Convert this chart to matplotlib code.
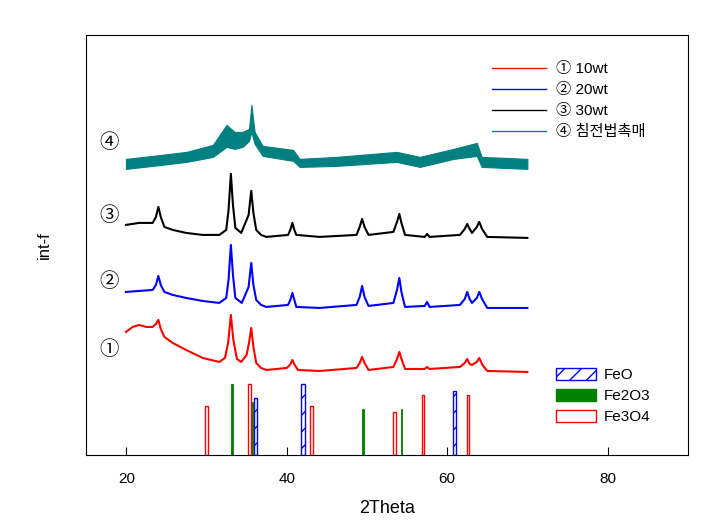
import matplotlib.pyplot as plt
from matplotlib.patches import Patch
from matplotlib.lines import Line2D

plt.rcParams['font.family'] = ['Liberation Sans', 'Noto Sans CJK KR', 'DejaVu Sans']

# XRD patterns (2theta, intensity in arbitrary offset units)
red_x = [19.96, 20.8, 21.6, 22.5, 23.29, 23.7, 24.0, 24.3, 24.75, 25.79, 27.46, 29.54, 31.6,
         32.3, 32.7, 33.04, 33.35, 33.8, 34.33, 35.0, 35.3, 35.58, 35.85, 36.2, 36.8, 37.46,
         40.0, 40.4, 40.71, 41.0, 41.4, 44.1, 48.7, 49.1, 49.4, 49.7, 50.2, 53.3, 53.75, 54.04,
         54.35, 54.75, 57.2, 57.5, 57.8, 61.6, 62.2, 62.5, 62.8, 63.1, 63.7, 64.0, 64.4, 65.0,
         70.0]
red_y = [123, 128, 130, 128, 128, 131, 135, 126, 118, 112, 105, 97, 93,
         97, 112, 140, 115, 96, 93, 100, 112, 127, 108, 92, 87, 85,
         87, 90, 95, 90, 85, 84, 87, 92, 98, 92, 85, 88, 96, 103,
         95, 86, 86, 88, 86, 88, 92, 96, 91, 90, 93, 97, 90, 84,
         83]

blue_x = [19.96, 21.6, 23.29, 23.7, 24.0, 24.3, 24.75, 25.8, 27.46, 29.5, 31.6, 32.46, 32.75,
          33.04, 33.3, 33.6, 34.4, 35.25, 35.58, 35.85, 36.2, 36.8, 37.46, 40.17, 40.45, 40.71,
          40.95, 41.2, 44.1, 48.7, 49.1, 49.4, 49.7, 50.2, 53.3, 53.75, 54.04, 54.3, 54.75,
          57.2, 57.5, 57.8, 61.6, 62.2, 62.5, 62.8, 63.1, 63.7, 64.0, 64.35, 65.0, 70.0]
blue_y = [163, 164, 165, 170, 179, 170, 163, 160, 157, 154, 152, 157, 175,
          210, 180, 157, 152, 168, 192, 170, 155, 150, 148, 150, 155, 162,
          155, 148, 147, 150, 158, 169, 158, 149, 152, 165, 177, 163, 148,
          149, 153, 148, 150, 156, 163, 156, 152, 157, 163, 156, 147, 147]

black_x = [19.96, 21.6, 23.29, 23.7, 24.0, 24.3, 24.75, 25.8, 27.46, 29.5, 31.6, 32.46, 32.75,
           33.04, 33.3, 33.6, 34.33, 35.25, 35.58, 35.85, 36.2, 36.8, 37.46, 40.17, 40.45, 40.71,
           40.95, 41.2, 44.1, 48.7, 49.1, 49.4, 49.7, 50.2, 53.3, 53.75, 54.04, 54.3, 54.75,
           57.2, 57.5, 57.8, 61.6, 62.2, 62.5, 62.8, 63.1, 63.7, 64.0, 64.35, 65.0, 70.0]
black_y = [230, 232, 232, 238, 248, 238, 228, 225, 222, 220, 220, 225, 245,
           281, 250, 227, 222, 240, 264, 242, 225, 220, 218, 220, 225, 232,
           225, 220, 218, 220, 228, 236, 228, 220, 223, 233, 241, 232, 220,
           218, 221, 218, 220, 226, 231, 226, 222, 228, 233, 226, 218, 217]

teal_x = [19.96, 23.3, 27.5, 30.8, 32.5, 33.5, 34.5, 35.3, 35.6, 36.0, 37.0, 40.8, 41.6,
          46.2, 53.7, 56.6, 60.8, 63.7, 64.3, 70.0]
teal_lo = [286, 289, 293, 298, 308, 306, 308, 314, 323, 311, 299, 294, 288,
           289, 293, 288, 296, 299, 288, 286]
teal_hi = [296, 299, 303, 310, 330, 323, 323, 326, 350, 323, 309, 305, 296,
           298, 303, 298, 306, 312, 298, 296]

# reference stick patterns
feo_pos = [36.1, 42.0, 60.9]
feo_h = [57, 71, 64]
fe2o3_pos = [33.2, 35.65, 49.5, 54.3]
fe2o3_h = [71, 53, 46, 46]
fe3o4_pos = [30.0, 35.4, 43.1, 53.4, 57.0, 62.6]
fe3o4_h = [49, 71, 49, 43, 60, 60]

series_labels = ['\u2460 10wt', '\u2461 20wt', '\u2462 30wt', '\u2463 침전법촉매']
teal = '#008080'

fig = plt.figure(figsize=(7.24, 5.2), dpi=100)
ax = fig.add_axes([0.119, 0.125, 0.831, 0.808])

ax.plot(red_x, red_y, color='red', lw=1.5)
ax.plot(blue_x, blue_y, color='blue', lw=1.5)
ax.plot(black_x, black_y, color='black', lw=1.5)
ax.fill_between(teal_x, teal_lo, teal_hi, color=teal, lw=0.8)

ax.bar(feo_pos, feo_h, width=0.45, facecolor='none', edgecolor='blue', hatch='//', lw=1)
ax.bar(fe2o3_pos, fe2o3_h, width=0.22, color='green', edgecolor='green', lw=0.6)
ax.bar(fe3o4_pos, fe3o4_h, width=0.35, facecolor='none', edgecolor='red', lw=1)

for lab, yy in zip(['\u2460', '\u2461', '\u2462', '\u2463'], [105, 173, 239, 312]):
    ax.text(17.9, yy, lab, fontsize=14, ha='center', va='center')

h1 = [Line2D([], [], color=c, lw=1) for c in ['red', 'blue', 'black', teal]]
leg1 = ax.legend(h1, series_labels, loc='upper left', bbox_to_anchor=(0.652, 0.967),
                 frameon=False, fontsize=11, handlelength=3.5, labelspacing=0.45,
                 handletextpad=0.7)
ax.add_artist(leg1)
h2 = [Patch(facecolor='white', edgecolor='blue', hatch='//'),
      Patch(facecolor='green', edgecolor='green'),
      Patch(facecolor='white', edgecolor='red')]
ax.legend(h2, ['FeO', 'Fe2O3', 'Fe3O4'], loc='upper left', bbox_to_anchor=(0.758, 0.24),
          frameon=False, fontsize=11, handlelength=2.6, handleheight=0.8,
          labelspacing=0.45, handletextpad=0.5)

ax.set_xlim(15, 90)
ax.set_ylim(0, 420)
ax.set_xticks([20, 40, 60, 80])
ax.set_yticks([])
ax.tick_params(axis='x', direction='in', length=6, labelsize=11, pad=12)
ax.set_xlabel('2Theta', fontsize=13, labelpad=10)
ax.set_ylabel('int-f', fontsize=12, labelpad=25)

fig.savefig('out.png', dpi=100)
